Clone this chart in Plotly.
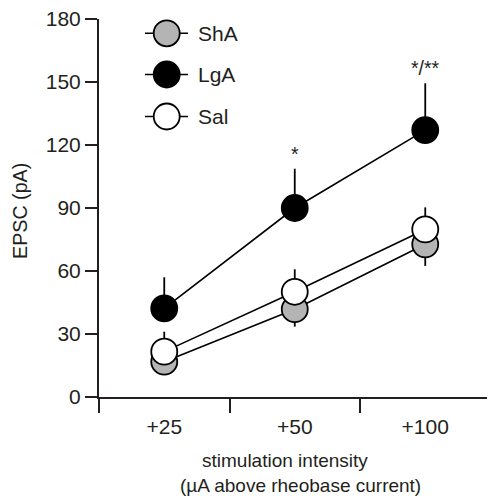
import plotly.graph_objects as go

# Stimulation intensities (categories) and mean EPSC amplitudes per group
intensities = ["+25", "+50", "+100"]
groups = ["ShA", "LgA", "Sal"]

sha_mean = [16.8, 41.8, 72.7]
sha_sem = [5.0, 8.3, 10.3]

lga_mean = [42.2, 90.0, 127.1]
lga_sem = [14.8, 18.7, 22.3]

sal_mean = [21.6, 50.1, 79.8]
sal_sem = [9.5, 10.7, 10.5]

# significance marks drawn above the LgA error bars
sig_labels = ["", "*", "*/**"]

y_ticks = [0, 30, 60, 90, 120, 150, 180]

INK = "#231f20"
FONT = "Liberation Sans, Arial, Helvetica, sans-serif"
FS_TICK = 21
FS_LEG = 21
FS_YT = 19.7
FS_XT = 19
MSIZE = 26
MLINE = 1.8

W, H = 487, 496
L, R, T, B = 99, 0, 19, 99

fig = go.Figure()

styles = {
    "ShA": dict(mean=sha_mean, sem=sha_sem, color="#b4b4b4", up=False),
    "Sal": dict(mean=sal_mean, sem=sal_sem, color="#ffffff", up=True),
    "LgA": dict(mean=lga_mean, sem=lga_sem, color="#000000", up=True),
}

# grey first, then white on top, then black
for name in ["ShA", "Sal", "LgA"]:
    s = styles[name]
    zeros = [0] * len(s["sem"])
    err = dict(
        type="data",
        symmetric=False,
        array=s["sem"] if s["up"] else zeros,
        arrayminus=zeros if s["up"] else s["sem"],
        color="#000000",
        thickness=1.8,
        width=0,
    )
    fig.add_trace(go.Scatter(
        x=intensities, y=s["mean"], name=name, mode="lines+markers",
        line=dict(color="#000000", width=1.6),
        marker=dict(size=MSIZE, color=s["color"], line=dict(color="#000000", width=MLINE)),
        error_y=err, showlegend=False, cliponaxis=False,
    ))

# significance annotations above the LgA error bars (x given as category index)
for i, (m, e, lab) in enumerate(zip(lga_mean, lga_sem, sig_labels)):
    if lab:
        fig.add_annotation(x=i, y=m + e, text=lab, showarrow=False, xanchor="center",
                           yanchor="bottom", yshift=2,
                           font=dict(family=FONT, size=19.5, color=INK))

# legend keys drawn on a pixel-scaled overlay so the symbols keep full size
leg_x0, leg_x1, leg_cx, leg_tx = 145, 188, 166.7, 196
leg_rows = [33.3, 74.5, 116.5]
leg_colors = {"ShA": "#b4b4b4", "LgA": "#000000", "Sal": "#ffffff"}
for name, yc in zip(groups, leg_rows):
    fig.add_trace(go.Scatter(
        x=[leg_x0, leg_x1], y=[yc, yc], mode="lines", xaxis="x2", yaxis="y2",
        line=dict(color="#000000", width=1.6), showlegend=False, hoverinfo="skip",
        cliponaxis=False,
    ))
    fig.add_trace(go.Scatter(
        x=[leg_cx], y=[yc], mode="markers", xaxis="x2", yaxis="y2",
        marker=dict(size=MSIZE, color=leg_colors[name], line=dict(color="#000000", width=MLINE)),
        showlegend=False, hoverinfo="skip", cliponaxis=False,
    ))
    fig.add_annotation(x=leg_tx, y=yc, xref="x2", yref="y2", text=name, showarrow=False,
                       xanchor="left", yanchor="middle",
                       font=dict(family=FONT, size=FS_LEG, color=INK))

pw = W - L - R
ph = H - T - B

# axis titles
fig.add_annotation(x=(20 - L) / pw, y=(H - B - 211) / ph, xref="paper", yref="paper",
                   text="EPSC (pA)", textangle=-90, showarrow=False,
                   xanchor="center", yanchor="middle",
                   font=dict(family=FONT, size=FS_YT, color=INK))
fig.add_annotation(x=(285 - L) / pw, y=-(460 - (H - B)) / ph, xref="paper", yref="paper",
                   text="stimulation intensity", showarrow=False,
                   xanchor="center", yanchor="middle",
                   font=dict(family=FONT, size=FS_XT, color=INK))
fig.add_annotation(x=(300 - L) / pw, y=-(485 - (H - B)) / ph, xref="paper", yref="paper",
                   text="(\u00b5A above rheobase current)", showarrow=False,
                   xanchor="center", yanchor="middle",
                   font=dict(family=FONT, size=FS_XT, color=INK))

fig.update_layout(
    width=W, height=H,
    margin=dict(l=L, r=R, t=T, b=B, pad=0),
    paper_bgcolor="#ffffff", plot_bgcolor="#ffffff",
    font=dict(family=FONT, size=FS_TICK, color=INK),
    xaxis=dict(
        type="category", categoryorder="array", categoryarray=intensities,
        range=[-0.5, -0.5 + pw / 130.5], tickson="boundaries",
        ticks="outside", ticklen=14, tickwidth=2, tickcolor=INK,
        showline=True, linewidth=2, linecolor=INK, showgrid=False, zeroline=False,
        tickfont=dict(family=FONT, size=FS_TICK, color=INK),
        ticklabelstandoff=10,
    ),
    yaxis=dict(
        range=[0, 180], tickvals=y_ticks, ticks="outside", ticklen=12, tickwidth=2,
        tickcolor=INK, showline=True, linewidth=2, linecolor=INK,
        showgrid=False, zeroline=False,
        tickfont=dict(family=FONT, size=FS_TICK, color=INK),
    ),
    xaxis2=dict(overlaying="x", range=[L, W - R], visible=False, fixedrange=True),
    yaxis2=dict(overlaying="y", range=[H - B, T], visible=False, fixedrange=True),
    showlegend=False,
)

fig.write_html("out.html")
